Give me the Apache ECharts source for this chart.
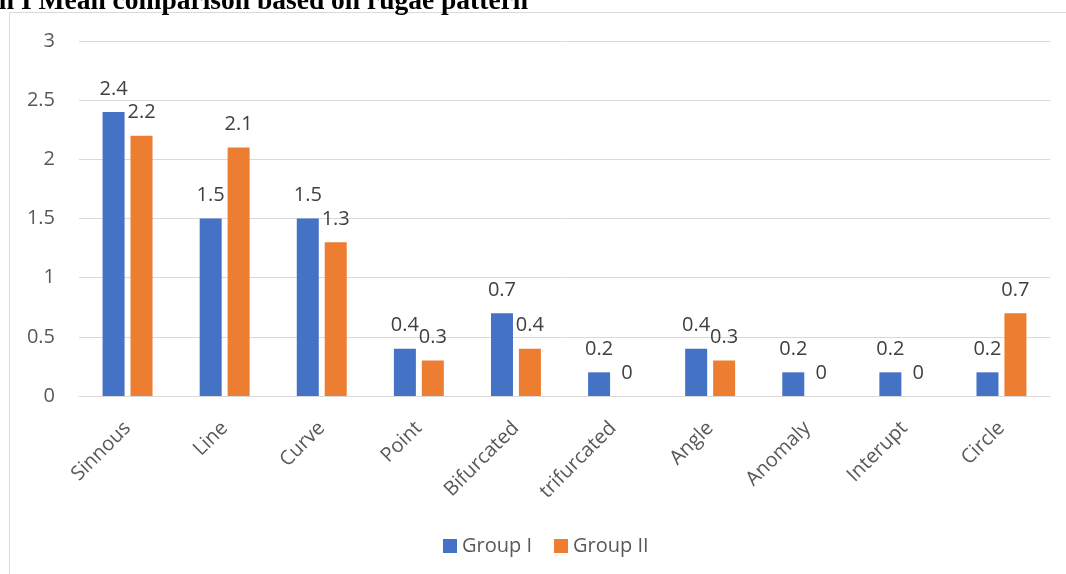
<!DOCTYPE html>
<html><head><meta charset="utf-8">
<script src="https://cdn.jsdelivr.net/npm/echarts@6/dist/echarts.min.js"></script>
<style>html,body{margin:0;padding:0;background:#fff}#c{width:1066px;height:574px}</style>
</head><body><div id="c"></div>
<script>
const categories = ['Sinnous','Line','Curve','Point','Bifurcated','trifurcated','Angle','Anomaly','Interupt','Circle'];
const groupI = [2.4,1.5,1.5,0.4,0.7,0.2,0.4,0.2,0.2,0.2];
const groupII = [2.2,2.1,1.3,0.3,0.4,0,0.3,0,0,0.7];
const yTicks = [0,0.5,1,1.5,2,2.5,3];
const titleText = 'on I Mean comparison based on rugae pattern';

const chart = echarts.init(document.getElementById('c'), null, {renderer:'canvas'});
const font = '"Open Sans", "Noto Sans", sans-serif';
const lbl = {show:true, position:'top', distance:13, color:'#404040', fontSize:20, fontFamily:font};
chart.setOption({
  animation:false,
  graphic:[
    {type:'rect', shape:{x:9.5,y:12.5,width:1070,height:580}, style:{fill:'none', stroke:'#d9d9d9', lineWidth:1}, z:0},
    {type:'text', x:-15, y:-12, style:{text:titleText, font:'700 27.5px "Liberation Serif", "Times New Roman", serif', fill:'#000'}, z:10}
  ],
  grid:{left:79, right:16, top:41, bottom:178},
  legend:{bottom:13, left:438, itemWidth:14, itemHeight:14, itemGap:22, icon:'rect',
    textStyle:{color:'#595959', fontSize:20, fontFamily:font}},
  xAxis:{type:'category', data:categories,
    axisLine:{lineStyle:{color:'#d9d9d9'}}, axisTick:{show:false},
    axisLabel:{rotate:45, color:'#595959', fontSize:20, fontFamily:font, margin:29, interval:0}},
  yAxis:{type:'value', min:0, max:3, interval:0.5,
    axisLine:{show:false}, axisTick:{show:false},
    splitLine:{lineStyle:{color:'#d9d9d9'}},
    axisLabel:{color:'#595959', fontSize:20, fontFamily:font, margin:24,
      formatter:v=>String(yTicks.find(t=>Math.abs(t-v)<1e-9) ?? v)}},
  series:[
    {name:'Group I', type:'bar', data:groupI, itemStyle:{color:'#4472c4'}, barWidth:22, barGap:'27%', label:lbl},
    {name:'Group II', type:'bar', data:groupII, itemStyle:{color:'#ed7d31'}, barWidth:22, label:lbl}
  ]
});
</script></body></html>
